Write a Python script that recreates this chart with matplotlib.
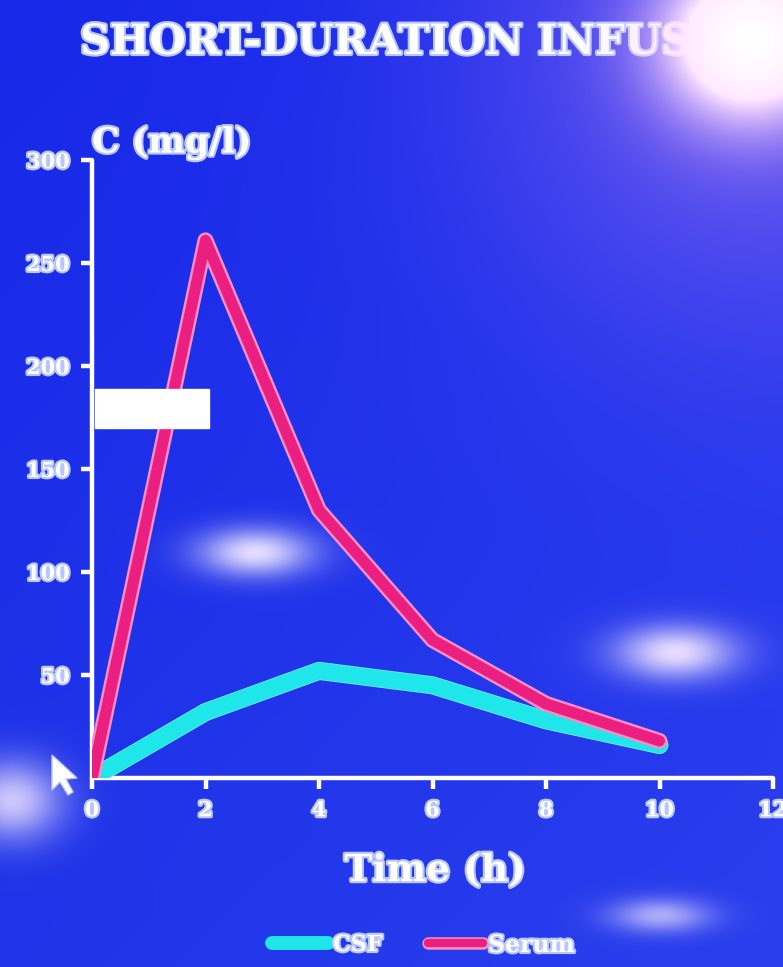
import numpy as np
import matplotlib
matplotlib.use("Agg")
import matplotlib.pyplot as plt
import matplotlib.patheffects as pe
from matplotlib.patches import Rectangle, Polygon

# Concentration data (mg/l) after a short-duration infusion
time_h = [0, 2, 4, 6, 8, 10]
csf = [0, 32, 52, 45, 28, 16]
serum = [0, 261, 130, 67, 36, 18]

x_ticks = [0, 2, 4, 6, 8, 10, 12]
y_ticks = [50, 100, 150, 200, 250, 300]

W, H = 783, 967
fig = plt.figure(figsize=(W / 100, H / 100), dpi=100)

# Projected-slide backdrop: saturated blue with soft light spots
yy, xx = np.mgrid[0:H, 0:W].astype(float)
img = np.zeros((H, W, 3))
img[:] = np.array([24, 40, 232]) / 255.0
img += (xx / W)[..., None] * np.array([0.04, 0.04, 0.02])
img += (yy / H)[..., None] * np.array([0.03, 0.05, 0.0])


def blob(cx, cy, sx, sy, color, strength):
    g = np.exp(-(((xx - cx) / sx) ** 2 + ((yy - cy) / sy) ** 2) / 2.0)
    return g[..., None] * (np.array(color) - img) * strength


img += blob(255, 552, 40, 17, [0.93, 0.9, 1.0], 0.95)
img += blob(675, 652, 42, 19, [0.95, 0.9, 1.0], 0.95)
img += blob(660, 915, 35, 12, [0.9, 0.86, 1.0], 0.7)
img += blob(12, 800, 35, 28, [0.92, 0.88, 1.0], 0.85)
img += blob(760, 60, 190, 190, [0.62, 0.45, 0.95], 0.55)
img = np.clip(img, 0, 1)

bg = fig.add_axes([0, 0, 1, 1], zorder=0)
bg.imshow(img, extent=[0, W, H, 0], aspect="auto", interpolation="bilinear")
bg.set_xlim(0, W)
bg.set_ylim(H, 0)
bg.axis("off")

glow = [pe.withStroke(linewidth=3, foreground="#b8c8ff")]
font = "DejaVu Serif"

# Title (runs off the right edge of the slide)
bg.text(80, 42, "SHORT-DURATION INFUSION", color="white", fontsize=30,
        fontweight="heavy", family=font, va="center", ha="left",
        path_effects=glow, zorder=1)

ax = fig.add_axes([92 / W, 1 - 778 / H, (773 - 92) / W, (778 - 160) / H],
                  zorder=2)
ax.patch.set_alpha(0)
ax.set_xlim(0, 12)
ax.set_ylim(0, 300)
for side in ("top", "right"):
    ax.spines[side].set_visible(False)
for side in ("left", "bottom"):
    ax.spines[side].set_color("white")
    ax.spines[side].set_linewidth(3.2)
    ax.spines[side].set_capstyle("round")

ax.set_xticks(x_ticks)
ax.set_yticks(y_ticks)
ax.tick_params(colors="white", width=3.2, length=8, direction="out", pad=8,
               labelsize=15)
for lab in ax.get_xticklabels() + ax.get_yticklabels():
    lab.set_fontweight("heavy")
    lab.set_family(font)
    lab.set_path_effects(glow)

ax.plot(time_h, csf, color="#1fe6e8", linewidth=12, solid_joinstyle="round",
        solid_capstyle="round", zorder=3,
        path_effects=[pe.Stroke(linewidth=13, foreground="#7af4f4"), pe.Normal()])
ax.plot(time_h, serum, color="#ea1f80", linewidth=8, solid_joinstyle="round",
        solid_capstyle="round", zorder=4,
        path_effects=[pe.Stroke(linewidth=11.5, foreground="#f88cc4"), pe.Normal()])

# White label patch partly covering the serum rise
ax.add_patch(Rectangle((0.05, 170), 2.02, 19, color="white", zorder=5,
                       clip_on=False))

ax.text(0.0, 1.0, "C (mg/l)", transform=ax.transAxes, color="white",
        fontsize=25, fontweight="heavy", family=font, ha="left", va="bottom",
        path_effects=glow)
ax.set_xlabel("Time (h)", color="white", fontsize=27, fontweight="heavy",
              family=font, path_effects=glow)
ax.xaxis.set_label_coords((435 - 92) / (773 - 92), -0.12)

# Legend along the bottom of the slide
bg.plot([272, 328], [943, 943], color="#1fe6e8", linewidth=10,
        solid_capstyle="round", zorder=1)
bg.text(333, 945, "CSF", color="white", fontsize=16, fontweight="heavy",
        family=font, va="center", path_effects=glow, zorder=1)
bg.plot([428, 483], [943, 943], color="#ea1f80", linewidth=6,
        solid_capstyle="round", zorder=1,
        path_effects=[pe.Stroke(linewidth=9, foreground="#f88cc4"), pe.Normal()])
bg.text(488, 945, "Serum", color="white", fontsize=17, fontweight="heavy",
        family=font, va="center", path_effects=glow, zorder=1)

# Mouse pointer near the origin
bg.add_patch(Polygon([[52, 755], [52, 790], [60, 782], [68, 795], [73, 792],
                      [66, 779], [77, 778]], closed=True, facecolor="white",
                     edgecolor="#c0c8ff", linewidth=1, zorder=3))

# Projector glare over the top-right corner, above the title
r2 = ((xx - 750) / 60) ** 2 + ((yy - 40) / 55) ** 2
core = np.exp(-r2 / 2.0)
glare = np.zeros((H, W, 4))
glare[..., 0] = 1.0
glare[..., 1] = 0.80 + 0.20 * core
glare[..., 2] = 1.0
glare[..., 3] = np.clip(1.7 * core ** 0.9, 0, 1)
top = fig.add_axes([0, 0, 1, 1], zorder=10)
top.imshow(glare, extent=[0, W, H, 0], aspect="auto", interpolation="bilinear")
top.set_xlim(0, W)
top.set_ylim(H, 0)
top.axis("off")

fig.savefig("out.png", dpi=100)
